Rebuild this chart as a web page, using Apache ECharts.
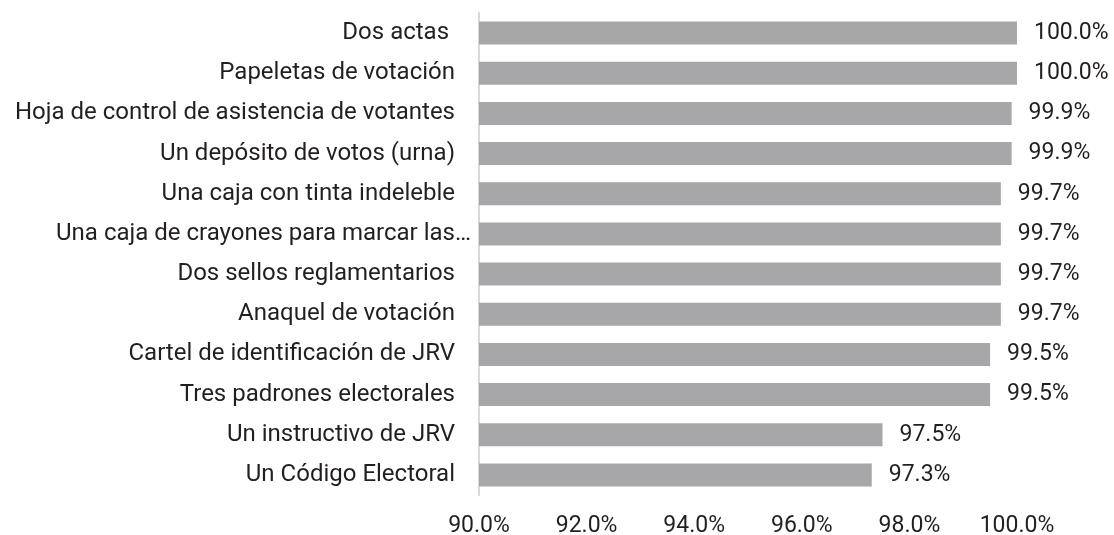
<!DOCTYPE html>
<html>
<head>
<meta charset="utf-8">
<script src="https://cdn.jsdelivr.net/npm/echarts@6/dist/echarts.min.js"></script>
<style>
  html, body { margin: 0; padding: 0; background: #fff; }
  #chart { width: 1114px; height: 535px; }
</style>
</head>
<body>
<div id="chart"></div>
<script>
// categories, top to bottom
var categories = [
  'Dos actas ',
  'Papeletas de votación',
  'Hoja de control de asistencia de votantes',
  'Un depósito de votos (urna)',
  'Una caja con tinta indeleble',
  'Una caja de crayones para marcar las…',
  'Dos sellos reglamentarios',
  'Anaquel de votación',
  'Cartel de identificación de JRV',
  'Tres padrones electorales',
  'Un instructivo de JRV',
  'Un Código Electoral'
];
var values = [100.0, 100.0, 99.9, 99.9, 99.7, 99.7, 99.7, 99.7, 99.5, 99.5, 97.5, 97.3];
var tickLabels = ['90.0%', '92.0%', '94.0%', '96.0%', '98.0%', '100.0%'];

var textColor = '#231f20';
var font = 'Roboto';

var chart = echarts.init(document.getElementById('chart'));
chart.setOption({
  animation: false,
  grid: { left: 479, right: 97, top: 13, bottom: 40, outerBoundsMode: 'none' },
  xAxis: {
    type: 'value', min: 90, max: 100, interval: 2,
    axisLine: { show: false }, axisTick: { show: false },
    splitLine: { show: false },
    axisLabel: {
      margin: 20, color: textColor, fontFamily: font, fontSize: 23,
      formatter: function (v) { return tickLabels[Math.round((v - 90) / 2)]; }
    }
  },
  yAxis: {
    type: 'category', data: categories, inverse: true,
    axisLine: { show: true, lineStyle: { color: '#d9d9d9', width: 2 } },
    axisTick: { show: false },
    axisLabel: {
      margin: 24, color: textColor, fontFamily: font, fontSize: 24,
      // the truncated label runs closer to the axis in the original
      formatter: function (v) {
        return v.indexOf('…') >= 0 ? '{w|' + v + '}' : v;
      },
      rich: {
        w: { fontFamily: font, fontSize: 24, color: textColor, padding: [0, -16, 0, 0] }
      }
    }
  },
  series: [
    {
      type: 'bar',
      data: values,
      barWidth: 23,
      itemStyle: { color: '#a7a7a9' },
      label: {
        show: true, position: 'right', distance: 17,
        color: textColor, fontFamily: font, fontSize: 23,
        formatter: function (p) { return p.value.toFixed(1) + '%'; }
      }
    }
  ]
});
</script>
</body>
</html>
